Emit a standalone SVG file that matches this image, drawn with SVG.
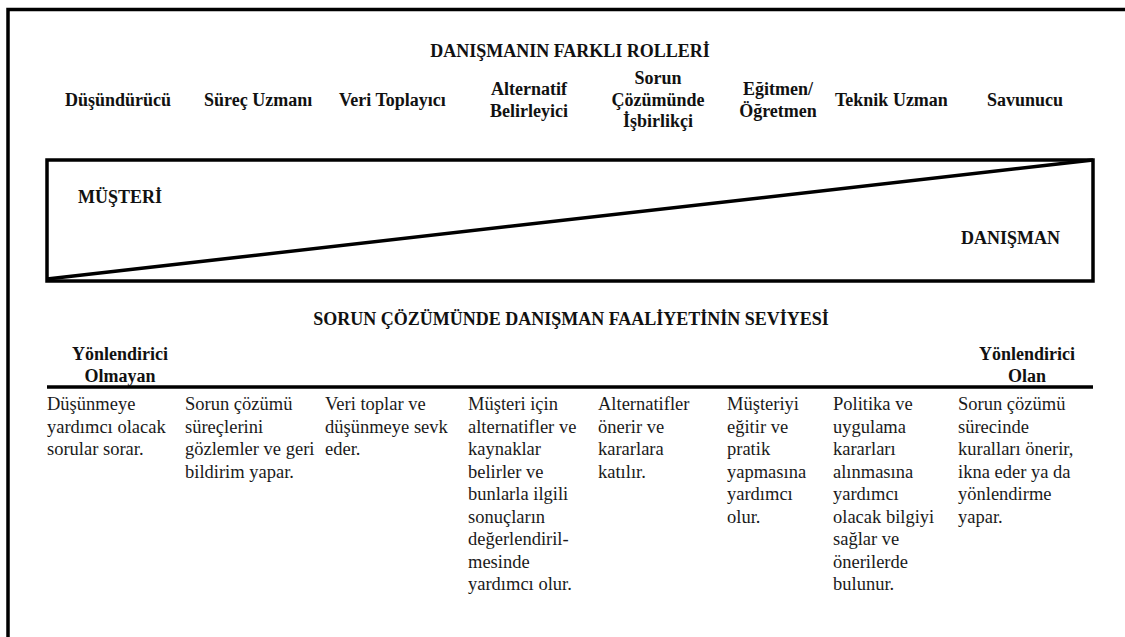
<svg xmlns="http://www.w3.org/2000/svg" width="1125" height="637" viewBox="0 0 1125 637">
<style>
.b{font-family:"Liberation Serif","Times New Roman",serif;font-weight:bold;font-size:18px;fill:#111}
.c{text-anchor:middle}
.r{font-family:"Liberation Serif","Times New Roman",serif;font-size:18.5px;fill:#1a1a1a}
.ln{stroke:#000;fill:none;stroke-width:3.5}
</style>
<rect width="1125" height="637" fill="#fff"/>
<g id="frame"><path class="ln" d="M8 637V9.5H1125"/></g>
<g id="title-roles"><text class="b c" x="570" y="57">DANIŞMANIN FARKLI ROLLERİ</text></g>
<g id="roles">
<text class="b" x="65" y="106">Düşündürücü</text>
<text class="b" x="204" y="106">Süreç Uzmanı</text>
<text class="b" x="339" y="106">Veri Toplayıcı</text>
<text class="b c" x="529" y="95">Alternatif<tspan x="529" y="117">Belirleyici</tspan></text>
<text class="b c" x="658" y="84">Sorun<tspan x="658" y="105.5">Çözümünde</tspan><tspan x="658" y="127">İşbirlikçi</tspan></text>
<text class="b c" x="778" y="95">Eğitmen/<tspan x="778" y="117">Öğretmen</tspan></text>
<text class="b" x="835" y="106">Teknik Uzman</text>
<text class="b" x="987" y="106">Savunucu</text>
</g>
<g id="connectors">
<rect class="ln" x="47" y="160" width="1046" height="121" stroke-width="3"/>
<path class="ln" d="M47 279L1093 160" stroke-width="2.5"/>
<path class="ln" d="M47 387H1093"/>
</g>
<g id="musteri"><text class="b" x="78" y="203">MÜŞTERİ</text></g>
<g id="danisman"><text class="b" x="961" y="244">DANIŞMAN</text></g>
<g id="title-level"><text class="b c" x="571" y="325">SORUN ÇÖZÜMÜNDE DANIŞMAN FAALİYETİNİN SEVİYESİ</text></g>
<g id="left-label"><text class="b c" x="120" y="360">Yönlendirici<tspan x="120" y="382">Olmayan</tspan></text></g>
<g id="right-label"><text class="b c" x="1027" y="360">Yönlendirici<tspan x="1027" y="382">Olan</tspan></text></g>
<g id="col1"><text class="r" x="47" y="410">Düşünmeye<tspan x="47" dy="22.5">yardımcı olacak</tspan><tspan x="47" dy="22.5">sorular sorar.</tspan></text></g>
<g id="col2"><text class="r" x="185" y="410">Sorun çözümü<tspan x="185" dy="22.5">süreçlerini</tspan><tspan x="185" dy="22.5">gözlemler ve geri</tspan><tspan x="185" dy="22.5">bildirim yapar.</tspan></text></g>
<g id="col3"><text class="r" x="325" y="410">Veri toplar ve<tspan x="325" dy="22.5">düşünmeye sevk</tspan><tspan x="325" dy="22.5">eder.</tspan></text></g>
<g id="col4"><text class="r" x="468" y="410">Müşteri için<tspan x="468" dy="22.5">alternatifler ve</tspan><tspan x="468" dy="22.5">kaynaklar</tspan><tspan x="468" dy="22.5">belirler ve</tspan><tspan x="468" dy="22.5">bunlarla ilgili</tspan><tspan x="468" dy="22.5">sonuçların</tspan><tspan x="468" dy="22.5">değerlendiril-</tspan><tspan x="468" dy="22.5">mesinde</tspan><tspan x="468" dy="22.5">yardımcı olur.</tspan></text></g>
<g id="col5"><text class="r" x="598" y="410">Alternatifler<tspan x="598" dy="22.5">önerir ve</tspan><tspan x="598" dy="22.5">kararlara</tspan><tspan x="598" dy="22.5">katılır.</tspan></text></g>
<g id="col6"><text class="r" x="727" y="410">Müşteriyi<tspan x="727" dy="22.5">eğitir ve</tspan><tspan x="727" dy="22.5">pratik</tspan><tspan x="727" dy="22.5">yapmasına</tspan><tspan x="727" dy="22.5">yardımcı</tspan><tspan x="727" dy="22.5">olur.</tspan></text></g>
<g id="col7"><text class="r" x="833" y="410">Politika ve<tspan x="833" dy="22.5">uygulama</tspan><tspan x="833" dy="22.5">kararları</tspan><tspan x="833" dy="22.5">alınmasına</tspan><tspan x="833" dy="22.5">yardımcı</tspan><tspan x="833" dy="22.5">olacak bilgiyi</tspan><tspan x="833" dy="22.5">sağlar ve</tspan><tspan x="833" dy="22.5">önerilerde</tspan><tspan x="833" dy="22.5">bulunur.</tspan></text></g>
<g id="col8"><text class="r" x="958" y="410">Sorun çözümü<tspan x="958" dy="22.5">sürecinde</tspan><tspan x="958" dy="22.5">kuralları önerir,</tspan><tspan x="958" dy="22.5">ikna eder ya da</tspan><tspan x="958" dy="22.5">yönlendirme</tspan><tspan x="958" dy="22.5">yapar.</tspan></text></g>
</svg>
